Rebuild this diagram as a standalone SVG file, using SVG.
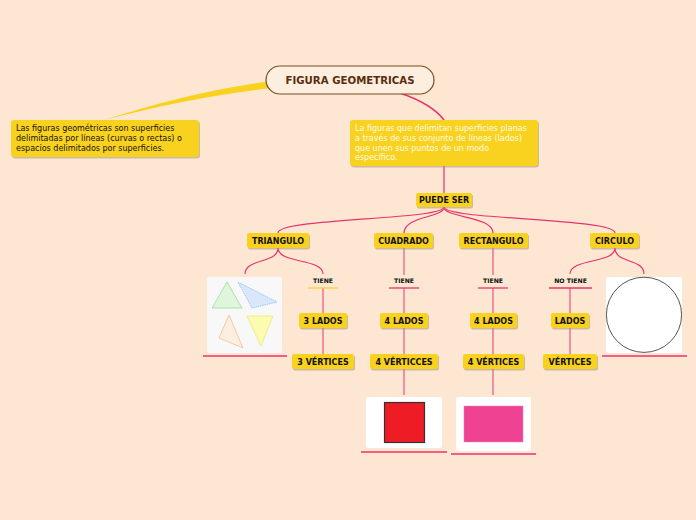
<svg xmlns="http://www.w3.org/2000/svg" width="696" height="520" viewBox="0 0 696 520">
<style>
.bg{fill:#fde7d3}
.node{fill:#f9d21f}
.sh{fill:#a89478;opacity:.55}
.lbl{font-family:"DejaVu Sans",Verdana,sans-serif;font-weight:bold;font-size:8px;fill:#111;text-anchor:middle}
.sm{font-family:"DejaVu Sans",Verdana,sans-serif;font-weight:bold;font-size:6.2px;fill:#111;text-anchor:middle}
.desc{font-family:"DejaVu Sans",Verdana,sans-serif;font-size:8px;fill:#111}
.descw{font-family:"DejaVu Sans",Verdana,sans-serif;font-size:8px;fill:#fffbe6}
.c{fill:none;stroke:#e8336a;stroke-width:1.2}
.v{fill:none;stroke:#ec6088;stroke-width:1.3}
.u{stroke:#e8336a;stroke-width:1.3}
</style>
<rect class="bg" x="0" y="0" width="696" height="520"/>

<g id="connectors">
  <path d="M268,81.5 Q190,92 104,120 Q192,97 268,88.5 Z" fill="#f9d21f"/>
  <path d="M400,93 Q432,104 444,120" fill="none" stroke="#e8336a" stroke-width="1.6"/>
  <path class="c" d="M444,166 L444,193"/>
  <path class="c" d="M444,207 C444,220 278,218 278,233"/>
  <path class="c" d="M444,207 C444,218 404,216 404,233"/>
  <path class="c" d="M444,207 C444,218 493,216 493,233"/>
  <path class="c" d="M444,207 C444,220 615,218 615,233"/>
  <path class="c" d="M278,248 C278,264 245,258 245,274"/>
  <path class="c" d="M278,248 C278,264 323,258 323,274"/>
  <path class="c" d="M615,248 C615,264 570,258 570,274"/>
  <path class="c" d="M615,248 C615,264 644,258 644,274"/>
  <path class="v" d="M404,248 L404,275"/>
  <path class="v" d="M493,248 L493,275"/>
  <path class="v" d="M323,288 L323,354"/>
  <path class="v" d="M404,288 L404,354"/>
  <path class="v" d="M493,288 L493,354"/>
  <path class="v" d="M570,288 L570,354"/>
  <path class="v" d="M404,369 L404,395"/>
  <path class="v" d="M493,369 L493,395"/>
  <line x1="308" y1="288" x2="338" y2="288" stroke="#f9d21f" stroke-width="1.3"/>
  <line class="u" x1="389" y1="288" x2="419" y2="288"/>
  <line class="u" x1="478" y1="288" x2="508" y2="288"/>
  <line class="u" x1="549" y1="288" x2="592" y2="288"/>
  <line class="u" x1="203" y1="356" x2="287" y2="356"/>
  <line class="u" x1="602" y1="356" x2="687" y2="356"/>
  <line class="u" x1="361" y1="452" x2="447" y2="452" stroke="#f06088"/>
  <line class="u" x1="451" y1="454" x2="536" y2="454" stroke="#f06088"/>
</g>

<g id="root">
  <rect x="266" y="66" width="168" height="28" rx="14" fill="#fdeedf" stroke="#7a4a22" stroke-width="1.2"/>
  <text x="350" y="83.6" font-family="'DejaVu Sans',Verdana,sans-serif" font-weight="bold" font-size="10.2" fill="#5b2c0e" text-anchor="middle">FIGURA GEOMETRICAS</text>
</g>

<g id="def-left">
  <rect class="sh" x="12" y="121.5" width="188" height="37" rx="3"/>
  <rect class="node" x="11" y="120" width="188" height="37" rx="3"/>
  <text class="desc" x="16" y="131">Las figuras geométricas son superficies</text>
  <text class="desc" x="16" y="141">delimitadas por líneas (curvas o rectas) o</text>
  <text class="desc" x="16" y="151">espacios delimitados por superficies.</text>
</g>

<g id="def-right">
  <rect class="sh" x="351" y="121.5" width="188" height="46" rx="3"/>
  <rect class="node" x="350" y="120" width="188" height="46" rx="3"/>
  <text class="descw" x="355" y="131">La figuras que delimitan superficies planas</text>
  <text class="descw" x="355" y="141">a través de sus conjunto de líneas (lados)</text>
  <text class="descw" x="355" y="151">que unen sus puntos de un modo</text>
  <text class="descw" x="355" y="160">específico.</text>
</g>

<g id="puede-ser">
  <rect class="sh" x="417" y="194.5" width="56" height="14" rx="2"/>
  <rect class="node" x="416" y="193" width="56" height="14" rx="2"/>
  <text class="lbl" x="444" y="203.2">PUEDE SER</text>
</g>

<g id="triangulo">
  <rect class="sh" x="248" y="234.5" width="62" height="15" rx="2"/>
  <rect class="node" x="247" y="233" width="62" height="15" rx="2"/>
  <text class="lbl" x="278" y="243.7">TRIANGULO</text>
</g>
<g id="cuadrado">
  <rect class="sh" x="375" y="234.5" width="59" height="15" rx="2"/>
  <rect class="node" x="374" y="233" width="59" height="15" rx="2"/>
  <text class="lbl" x="403.5" y="243.7">CUADRADO</text>
</g>
<g id="rectangulo">
  <rect class="sh" x="460" y="234.5" width="69" height="15" rx="2"/>
  <rect class="node" x="459" y="233" width="69" height="15" rx="2"/>
  <text class="lbl" x="493.5" y="243.7">RECTANGULO</text>
</g>
<g id="circulo">
  <rect class="sh" x="591" y="234.5" width="49" height="15" rx="2"/>
  <rect class="node" x="590" y="233" width="49" height="15" rx="2"/>
  <text class="lbl" x="614.5" y="243.7">CIRCULO</text>
</g>

<g id="tiene-1"><text class="sm" x="323" y="283">TIENE</text></g>
<g id="tiene-2"><text class="sm" x="404" y="283">TIENE</text></g>
<g id="tiene-3"><text class="sm" x="493" y="283">TIENE</text></g>
<g id="no-tiene"><text class="sm" x="570.5" y="283">NO TIENE</text></g>

<g id="img-triangulos">
  <rect x="207" y="277" width="75" height="76" rx="2" fill="#f8f8f8"/>
  <polygon points="227,282 212,308 242,308" fill="#dff5dc" stroke="#9fdc9a" stroke-width="0.8"/>
  <polygon points="238,282 277,302 252,308" fill="#d8e8fa" stroke="#8cbcf0" stroke-width="0.8" stroke-dasharray="1.5,0.8"/>
  <polygon points="229,315 219,338 243,348" fill="#fdeee0" stroke="#efc08e" stroke-width="0.8"/>
  <polygon points="247,316 273,316 261,346" fill="#fdfbb0" stroke="#e9e87c" stroke-width="0.8"/>
</g>

<g id="img-circulo">
  <rect x="606" y="277" width="76" height="76" rx="2" fill="#ffffff"/>
  <circle cx="644" cy="314.8" r="37.6" fill="#ffffff" stroke="#444" stroke-width="0.9"/>
</g>

<g id="lados-3">
  <rect class="sh" x="300" y="314.5" width="48" height="15" rx="2"/>
  <rect class="node" x="299" y="313" width="48" height="15" rx="2"/>
  <text class="lbl" x="323" y="323.7">3 LADOS</text>
</g>
<g id="lados-4a">
  <rect class="sh" x="381" y="314.5" width="48" height="15" rx="2"/>
  <rect class="node" x="380" y="313" width="48" height="15" rx="2"/>
  <text class="lbl" x="404" y="323.7">4 LADOS</text>
</g>
<g id="lados-4b">
  <rect class="sh" x="471" y="314.5" width="47" height="15" rx="2"/>
  <rect class="node" x="470" y="313" width="47" height="15" rx="2"/>
  <text class="lbl" x="493.5" y="323.7">4 LADOS</text>
</g>
<g id="lados">
  <rect class="sh" x="552" y="314.5" width="38" height="15" rx="2"/>
  <rect class="node" x="551" y="313" width="38" height="15" rx="2"/>
  <text class="lbl" x="570" y="323.7">LADOS</text>
</g>

<g id="vertices-3">
  <rect class="sh" x="293" y="355.5" width="62" height="15" rx="2"/>
  <rect class="node" x="292" y="354" width="62" height="15" rx="2"/>
  <text class="lbl" x="323" y="364.7">3 VÉRTICES</text>
</g>
<g id="vertices-4a">
  <rect class="sh" x="371" y="355.5" width="68" height="15" rx="2"/>
  <rect class="node" x="370" y="354" width="68" height="15" rx="2"/>
  <text class="lbl" x="404" y="364.7">4 VÉRTICCES</text>
</g>
<g id="vertices-4b">
  <rect class="sh" x="464" y="355.5" width="61" height="15" rx="2"/>
  <rect class="node" x="463" y="354" width="61" height="15" rx="2"/>
  <text class="lbl" x="493.5" y="364.7">4 VÉRTICES</text>
</g>
<g id="vertices">
  <rect class="sh" x="544" y="355.5" width="54" height="15" rx="2"/>
  <rect class="node" x="543" y="354" width="54" height="15" rx="2"/>
  <text class="lbl" x="570" y="364.7">VÉRTICES</text>
</g>

<g id="img-cuadrado">
  <rect x="366" y="397" width="76" height="51" rx="2" fill="#ffffff"/>
  <rect x="384.5" y="402.5" width="40" height="40" fill="#ee1c25" stroke="#333" stroke-width="1.2"/>
</g>
<g id="img-rectangulo">
  <rect x="456" y="397" width="75" height="54" rx="2" fill="#ffffff"/>
  <rect x="464" y="406" width="59" height="36" fill="#f04293" stroke="#d889b0" stroke-width="0.5"/>
</g>
</svg>
